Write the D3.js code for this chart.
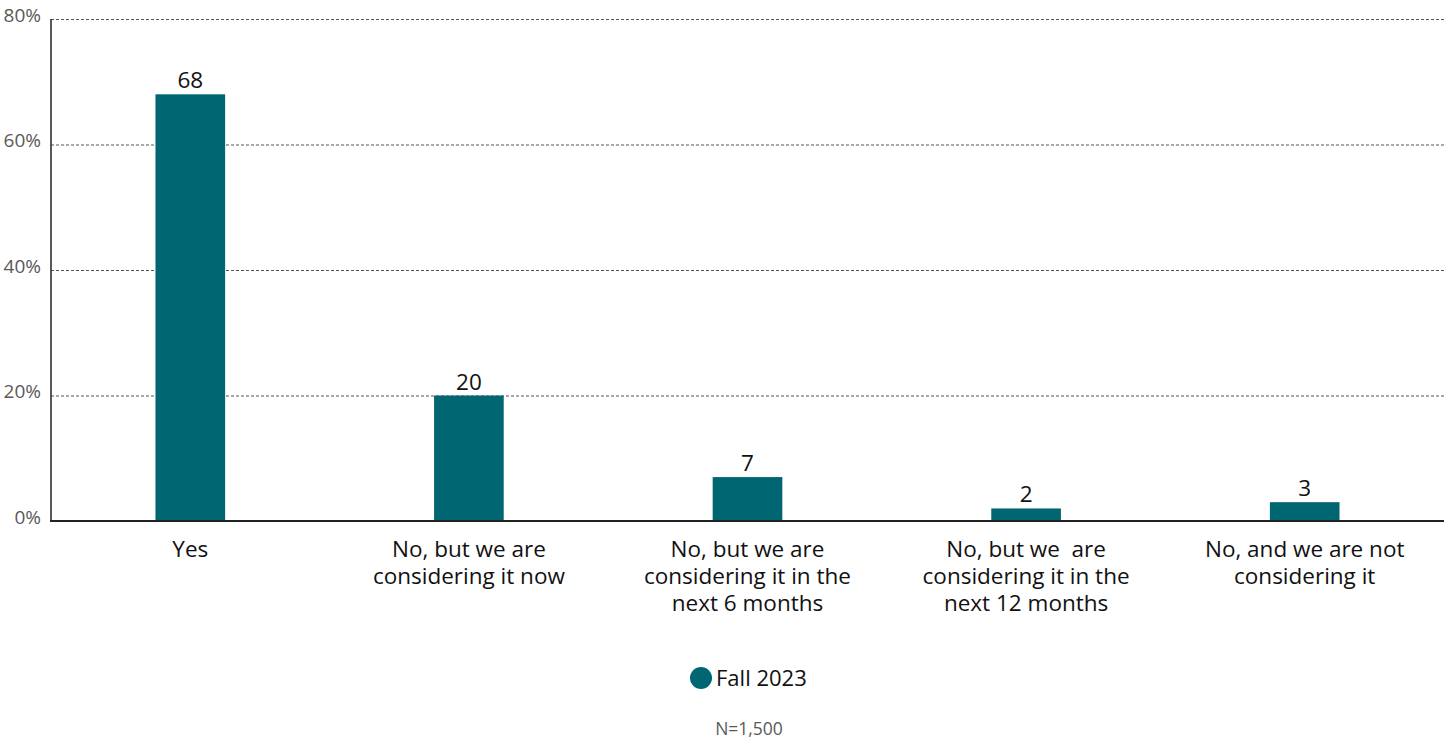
<!DOCTYPE html>
<html>
<head>
<meta charset="utf-8">
<script src="https://cdn.jsdelivr.net/npm/d3@7"></script>
<style>
  body { margin: 0; background: #fff; }
  svg { display: block; font-family: "Open Sans", sans-serif; }
</style>
</head>
<body>
<svg id="chart" width="1448" height="739"></svg>
<script>
// Survey responses, share of respondents (%)
const categories = [
  ["Yes"],
  ["No, but we are", "considering it now"],
  ["No, but we are", "considering it in the", "next 6 months"],
  ["No, but we  are", "considering it in the", "next 12 months"],
  ["No, and we are not", "considering it"]
];
const values = [68, 20, 7, 2, 3];
const yTicks = [0, 20, 40, 60, 80];
const seriesName = "Fall 2023";
const note = "N=1,500";

const barColor = "#006672";
const svg = d3.select("#chart");
const margin = { left: 51, right: 4, top: 19, bottom: 218 };
const W = 1448, H = 739;

const x = d3.scaleBand()
  .domain(d3.range(categories.length))
  .range([margin.left, W - margin.right])
  .paddingInner(0.75)
  .paddingOuter(0.375);

const y = d3.scaleLinear().domain([0, 80]).range([H - margin.bottom, margin.top]);

// gridlines
svg.append("g")
  .selectAll("line")
  .data(yTicks.filter(d => d > 0))
  .join("line")
  .attr("x1", margin.left).attr("x2", W - margin.right)
  .attr("y1", d => y(d) + 0.5).attr("y2", d => y(d) + 0.5)
  .attr("stroke", "#555")
  .attr("stroke-width", 1)
  .attr("stroke-dasharray", "3,2");

// y axis labels
const yAxis = d3.axisLeft(y).tickValues(yTicks).tickFormat(d => d + "%").tickSize(0).tickPadding(10);
const gy = svg.append("g").attr("transform", `translate(${margin.left},0)`).call(yAxis);
gy.select(".domain").remove();
gy.selectAll("text")
  .attr("font-size", 19)
  .attr("font-family", "Open Sans")
  .attr("fill", "#595959")
  .attr("dy", "0.12em");

// bars
svg.append("g")
  .selectAll("rect")
  .data(values)
  .join("rect")
  .attr("x", (d, i) => x(i))
  .attr("width", x.bandwidth())
  .attr("y", d => y(d))
  .attr("height", d => y(0) - y(d))
  .attr("fill", barColor);

// value labels
svg.append("g")
  .selectAll("text")
  .data(values)
  .join("text")
  .attr("x", (d, i) => x(i) + x.bandwidth() / 2)
  .attr("y", d => y(d) - 6)
  .attr("text-anchor", "middle")
  .attr("font-size", 22.5)
  .attr("fill", "#111")
  .text(d => d);

// axis lines
svg.append("line")
  .attr("x1", margin.left).attr("x2", margin.left)
  .attr("y1", margin.top).attr("y2", y(0))
  .attr("stroke", "#222").attr("stroke-width", 1.5);
svg.append("line")
  .attr("x1", margin.left - 1).attr("x2", W - margin.right)
  .attr("y1", y(0)).attr("y2", y(0))
  .attr("stroke", "#222").attr("stroke-width", 2);

// category labels
const catG = svg.append("g");
categories.forEach((lines, i) => {
  const t = catG.append("text")
    .attr("x", x(i) + x.bandwidth() / 2)
    .attr("y", 557)
    .attr("text-anchor", "middle")
    .attr("font-size", 22.5)
    .attr("fill", "#111")
    .style("white-space", "pre");
  lines.forEach((ln, j) => {
    t.append("tspan")
      .attr("x", x(i) + x.bandwidth() / 2)
      .attr("dy", j === 0 ? 0 : 27)
      .text(ln);
  });
});

// legend
const lg = svg.append("g");
lg.append("circle").attr("cx", 701).attr("cy", 678).attr("r", 11).attr("fill", barColor);
lg.append("text").attr("x", 716).attr("y", 686).attr("font-size", 22).attr("fill", "#111").text(seriesName);

// footnote
svg.append("text")
  .attr("x", 749).attr("y", 735)
  .attr("text-anchor", "middle")
  .attr("font-size", 17.5)
  .attr("fill", "#595959")
  .text(note);
</script>
</body>
</html>
